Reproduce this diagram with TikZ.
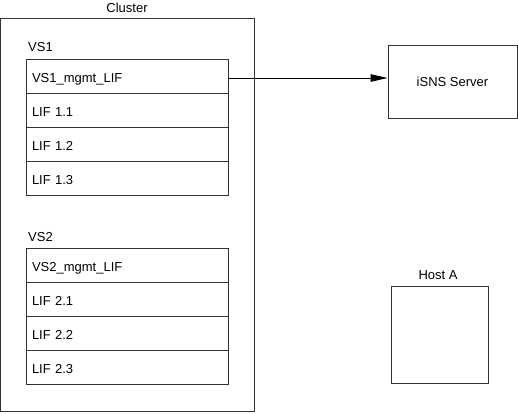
\documentclass[tikz,border=0pt]{standalone}
\usepackage{fontspec}
\setmainfont{Liberation Sans}
\usetikzlibrary{arrows.meta}
\begin{document}
\begin{tikzpicture}[x=1pt,y=-1pt,
  font=\fontsize{13}{15}\selectfont,
  box/.style={draw=black!80, line width=0.9pt, rectangle, inner sep=0pt},
  row/.style={box, minimum width=202pt, minimum height=34pt, text width=190pt, align=left, inner xsep=6pt, text height=13.3pt, text depth=0pt},
  lbl/.style={inner sep=0pt},
  arr/.style={draw=black, line width=0.9pt, -{Triangle[length=17pt,width=7.5pt]}}
]
\useasboundingbox (0,0) rectangle (518,413);
% cluster
\node[box, minimum width=254pt, minimum height=393pt] (cluster) at (127.9,214.5) {};
\node[lbl] (clusterlbl) at (127,8) {Cluster};
% VS1
\node[lbl, anchor=west] (vs1) at (28,47) {VS1};
\node[row] (m1) at (127,76) {VS1\_mgmt\_LIF};
\node[row] (l11) at (127,110) {LIF 1.1};
\node[row] (l12) at (127,144) {LIF 1.2};
\node[row] (l13) at (127,178) {LIF 1.3};
% VS2
\node[lbl, anchor=west] (vs2) at (28,237) {VS2};
\node[row] (m2) at (127,265) {VS2\_mgmt\_LIF};
\node[row] (l21) at (127,299) {LIF 2.1};
\node[row] (l22) at (127,333) {LIF 2.2};
\node[row] (l23) at (127,367) {LIF 2.3};
% iSNS
\node[box, minimum width=129pt, minimum height=73pt] (isns) at (452.5,81.5) {iSNS Server};
% Host A
\node[box, minimum width=97pt, minimum height=97pt] (host) at (439.5,334.5) {};
\node[lbl] (hostlbl) at (438,275) {Host A};
% arrow
\coordinate (a) at ([yshift=-2pt]m1.east);
\draw[arr] (a) -- (a -| isns.west);
\end{tikzpicture}
\end{document}
